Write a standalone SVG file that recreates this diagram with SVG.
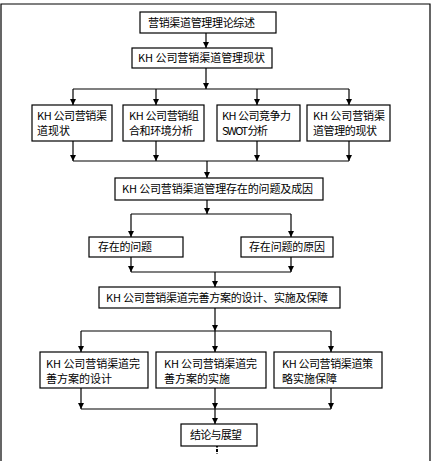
<svg xmlns="http://www.w3.org/2000/svg" width="437" height="461" viewBox="0 0 437 461">
<style>
.bx{fill:#fff;stroke:#000;stroke-width:1.2}
.ln{fill:none;stroke:#000;stroke-width:1.2}
.t{font-family:"Noto Sans CJK SC","Liberation Sans",sans-serif;font-size:11px;fill:#000}
</style>
<defs>
<marker id="ah" viewBox="0 0 8 8" refX="8" refY="4" markerWidth="6" markerHeight="6" markerUnits="userSpaceOnUse" orient="auto">
<path d="M0,0 L8,4 L0,8 Z" fill="#000"/>
</marker>
</defs>
<rect width="437" height="461" fill="#fff"/>
<path d="M1,461 V4 H430 V461" fill="none" stroke="#000" stroke-width="1.2"/>
<g id="connectors">
<path class="ln" d="M206,33 V48" marker-end="url(#ah)"/>
<path class="ln" d="M206,68 V89" marker-end="url(#ah)"/>
<path class="ln" d="M73,89 H349"/>
<path class="ln" d="M73,89 V105" marker-end="url(#ah)"/>
<path class="ln" d="M156,89 V105" marker-end="url(#ah)"/>
<path class="ln" d="M257,89 V105" marker-end="url(#ah)"/>
<path class="ln" d="M349,89 V105" marker-end="url(#ah)"/>
<path class="ln" d="M73,141 V161" marker-end="url(#ah)"/>
<path class="ln" d="M156,141 V161" marker-end="url(#ah)"/>
<path class="ln" d="M257,141 V161" marker-end="url(#ah)"/>
<path class="ln" d="M349,141 V161" marker-end="url(#ah)"/>
<path class="ln" d="M73,161 H349"/>
<path class="ln" d="M207,161 V178" marker-end="url(#ah)"/>
<path class="ln" d="M207,200 V214" marker-end="url(#ah)"/>
<path class="ln" d="M131,214 H291"/>
<path class="ln" d="M131,214 V237" marker-end="url(#ah)"/>
<path class="ln" d="M291,214 V237" marker-end="url(#ah)"/>
<path class="ln" d="M131,257 V272" marker-end="url(#ah)"/>
<path class="ln" d="M291,257 V272" marker-end="url(#ah)"/>
<path class="ln" d="M131,272 H291"/>
<path class="ln" d="M215,272 V287" marker-end="url(#ah)"/>
<path class="ln" d="M215,308 V331" marker-end="url(#ah)"/>
<path class="ln" d="M81,331 H331"/>
<path class="ln" d="M81,331 V352" marker-end="url(#ah)"/>
<path class="ln" d="M215,331 V352" marker-end="url(#ah)"/>
<path class="ln" d="M331,331 V352" marker-end="url(#ah)"/>
<path class="ln" d="M81,388 V409" marker-end="url(#ah)"/>
<path class="ln" d="M215,388 V409" marker-end="url(#ah)"/>
<path class="ln" d="M331,388 V409" marker-end="url(#ah)"/>
<path class="ln" d="M81,409 H331"/>
<path class="ln" d="M215,409 V424" marker-end="url(#ah)"/>
<path d="M217,440 V454" stroke="#000" stroke-width="2" stroke-dasharray="3,1.5"/>
</g>
<g id="n1"><rect class="bx" x="140" y="12" width="136" height="21"/><text class="t" x="148" y="26.5" textLength="107" lengthAdjust="spacing">营销渠道管理理论综述</text></g>
<g id="n2"><rect class="bx" x="132" y="48" width="140" height="20"/><text class="t" x="138" y="62" textLength="127" lengthAdjust="spacing">KH 公司营销渠道管理现状</text></g>
<g id="n3"><rect class="bx" x="32" y="105" width="80" height="36"/><text class="t" x="37" y="120" textLength="70" lengthAdjust="spacing">KH 公司营销渠</text><text class="t" x="37" y="135" textLength="33" lengthAdjust="spacing">道现状</text></g>
<g id="n4"><rect class="bx" x="123" y="105" width="81" height="36"/><text class="t" x="129" y="120" textLength="70" lengthAdjust="spacing">KH 公司营销组</text><text class="t" x="129" y="135" textLength="64" lengthAdjust="spacing">合和环境分析</text></g>
<g id="n5"><rect class="bx" x="217" y="105" width="83" height="36"/><text class="t" x="222" y="120" textLength="69" lengthAdjust="spacing">KH 公司竞争力</text><text class="t" x="222" y="135" textLength="46" lengthAdjust="spacing">SWOT 分析</text></g>
<g id="n6"><rect class="bx" x="307" y="105" width="83" height="36"/><text class="t" x="313" y="120" textLength="72" lengthAdjust="spacing">KH 公司营销渠</text><text class="t" x="313" y="135" textLength="64" lengthAdjust="spacing">道管理的现状</text></g>
<g id="n7"><rect class="bx" x="115" y="178" width="208" height="22"/><text class="t" x="122" y="193" textLength="191" lengthAdjust="spacing">KH 公司营销渠道管理存在的问题及成因</text></g>
<g id="n8"><rect class="bx" x="89" y="237" width="94" height="20"/><text class="t" x="98" y="251" textLength="54" lengthAdjust="spacing">存在的问题</text></g>
<g id="n9"><rect class="bx" x="241" y="237" width="92" height="20"/><text class="t" x="249" y="251" textLength="76" lengthAdjust="spacing">存在问题的原因</text></g>
<g id="n10"><rect class="bx" x="99" y="287" width="241" height="21"/><text class="t" x="106" y="301.5" textLength="222" lengthAdjust="spacing">KH 公司营销渠道完善方案的设计、实施及保障</text></g>
<g id="n11"><rect class="bx" x="40" y="352" width="108" height="36"/><text class="t" x="46" y="368" textLength="94" lengthAdjust="spacing">KH 公司营销渠道完</text><text class="t" x="46" y="383" textLength="66" lengthAdjust="spacing">善方案的设计</text></g>
<g id="n12"><rect class="bx" x="156" y="352" width="110" height="36"/><text class="t" x="164" y="368" textLength="93" lengthAdjust="spacing">KH 公司营销渠道完</text><text class="t" x="164" y="383" textLength="66" lengthAdjust="spacing">善方案的实施</text></g>
<g id="n13"><rect class="bx" x="274" y="352" width="108" height="36"/><text class="t" x="282" y="368" textLength="91" lengthAdjust="spacing">KH 公司营销渠道策</text><text class="t" x="282" y="383" textLength="55" lengthAdjust="spacing">略实施保障</text></g>
<g id="n14"><rect class="bx" x="181" y="424" width="76" height="22"/><text class="t" x="190" y="439" textLength="52" lengthAdjust="spacing">结论与展望</text></g>
</svg>
